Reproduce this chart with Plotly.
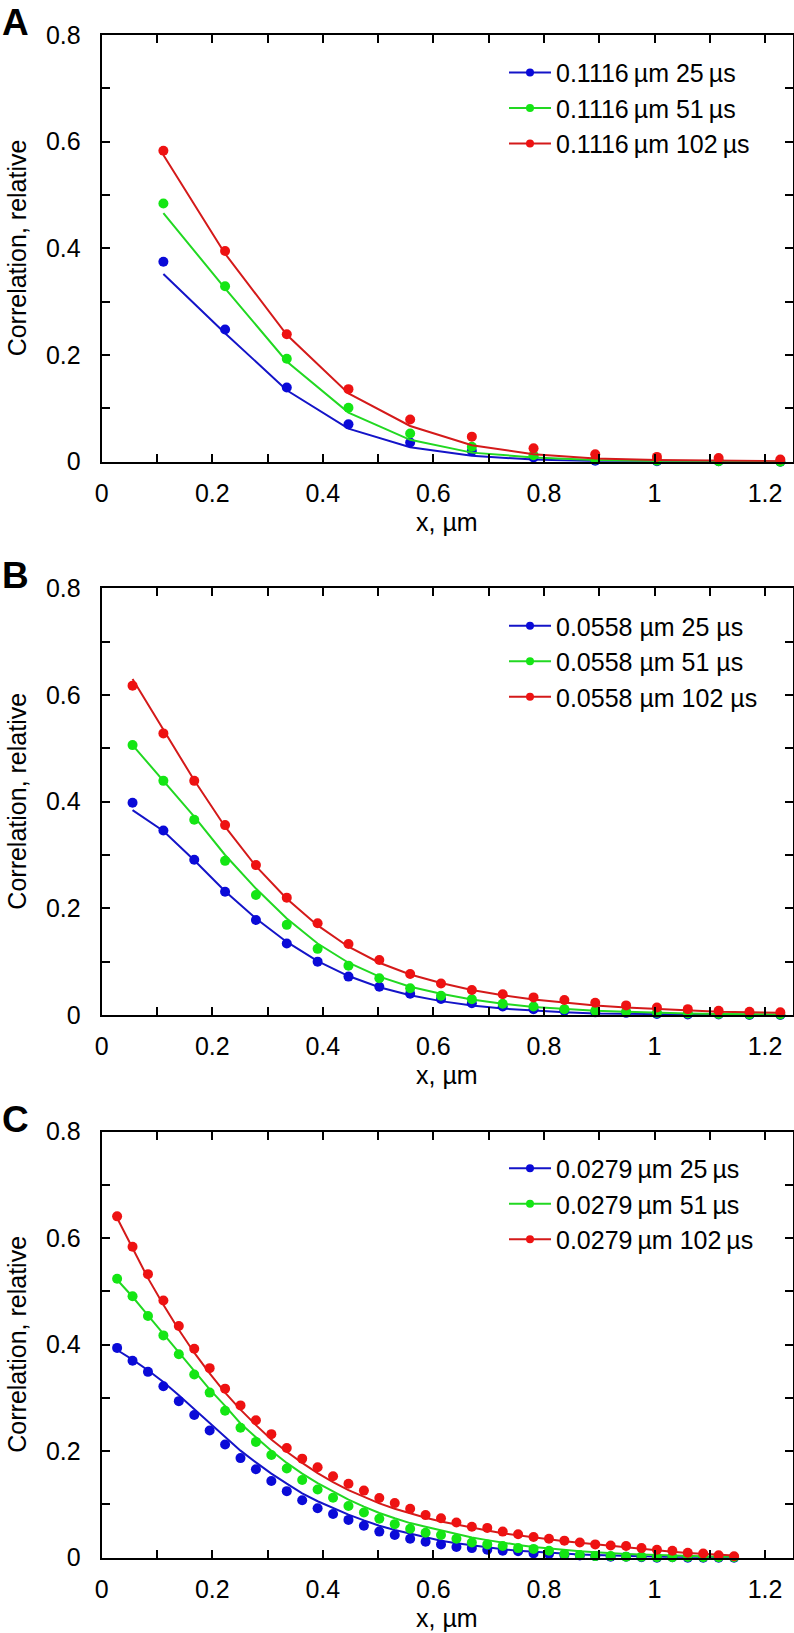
import plotly.graph_objects as go

# ---------------- data ----------------
x_a = [0.1116, 0.2232, 0.3348, 0.4464, 0.558, 0.6696, 0.7812, 0.8928, 1.0044, 1.116, 1.2276]
a_blue = [0.375, 0.248, 0.139, 0.070, 0.036, 0.020, 0.008, 0.002, 0.001, 0.001, 0.0]
a_blue_fit = [0.352, 0.241, 0.134, 0.062, 0.027, 0.011, 0.004, 0.001, 0.0, 0.0, 0.0]
a_green = [0.484, 0.329, 0.193, 0.101, 0.053, 0.028, 0.012, 0.004, 0.002, 0.001, 0.0]
a_green_fit = [0.466, 0.325, 0.188, 0.092, 0.041, 0.017, 0.008, 0.003, 0.001, 0.0, 0.0]
a_red = [0.583, 0.395, 0.239, 0.136, 0.079, 0.047, 0.025, 0.014, 0.009, 0.007, 0.004]
a_red_fit = [0.575, 0.390, 0.238, 0.128, 0.067, 0.031, 0.014, 0.006, 0.003, 0.0015, 0.001]

x_b = [0.0558, 0.1116, 0.1674, 0.2232, 0.279, 0.3348, 0.3906, 0.4464, 0.5022, 0.558, 0.6138,
       0.6696, 0.7254, 0.7812, 0.837, 0.8928, 0.9486, 1.0044, 1.0602, 1.116, 1.1718, 1.2276]
b_blue = [0.398, 0.346, 0.291, 0.231, 0.178, 0.134, 0.100, 0.072, 0.053, 0.040, 0.030,
          0.022, 0.016, 0.011, 0.008, 0.005, 0.004, 0.002, 0.001, 0.001, 0.0, 0.0]
b_blue_fit = [0.384, 0.345, 0.290, 0.232, 0.181, 0.137, 0.101, 0.073, 0.052, 0.037, 0.026,
              0.018, 0.012, 0.008, 0.005, 0.003, 0.002, 0.001, 0.001, 0.0005, 0.0, 0.0]
b_green = [0.506, 0.439, 0.366, 0.289, 0.225, 0.169, 0.124, 0.0925, 0.069, 0.050, 0.036,
           0.0295, 0.021, 0.016, 0.011, 0.008, 0.006, 0.004, 0.003, 0.002, 0.001, 0.001]
b_green_fit = [0.506, 0.440, 0.372, 0.300, 0.237, 0.181, 0.134, 0.098, 0.072, 0.053, 0.040,
               0.029, 0.021, 0.015, 0.011, 0.008, 0.006, 0.004, 0.003, 0.002, 0.0015, 0.001]
b_red = [0.6175, 0.528, 0.439, 0.356, 0.281, 0.220, 0.172, 0.133, 0.103, 0.077, 0.059,
         0.047, 0.039, 0.033, 0.028, 0.023, 0.018, 0.014, 0.011, 0.008, 0.006, 0.005]
b_red_fit = [0.630, 0.535, 0.440, 0.353, 0.279, 0.218, 0.168, 0.128, 0.098, 0.076, 0.060,
             0.047, 0.037, 0.029, 0.023, 0.018, 0.014, 0.011, 0.008, 0.006, 0.005, 0.004]

x_c = [0.0279, 0.0558, 0.0837, 0.1116, 0.1395, 0.1674, 0.1953, 0.2232, 0.2511, 0.279,
       0.3069, 0.3348, 0.3627, 0.3906, 0.4185, 0.4464, 0.4743, 0.5022, 0.5301, 0.558,
       0.5859, 0.6138, 0.6417, 0.6696, 0.6975, 0.7254, 0.7533, 0.7812, 0.8091, 0.837,
       0.8649, 0.8928, 0.9207, 0.9486, 0.9765, 1.0044, 1.0323, 1.0602, 1.0881, 1.116, 1.1439]
c_blue = [0.394, 0.370, 0.349, 0.322, 0.294, 0.268, 0.239, 0.2125, 0.187, 0.166,
          0.144, 0.125, 0.108, 0.093, 0.082, 0.071, 0.060, 0.049, 0.0425, 0.0355,
          0.030, 0.025, 0.020, 0.018, 0.015, 0.013, 0.012, 0.008, 0.007, 0.005,
          0.004, 0.003, 0.002, 0.002, 0.001, 0.0, 0.001, 0.0, 0.0, 0.0, 0.0]
c_blue_fit = [0.390, 0.372, 0.352, 0.330, 0.305, 0.279, 0.252, 0.226, 0.201, 0.179,
              0.158, 0.139, 0.121, 0.106, 0.093, 0.081, 0.070, 0.060, 0.052, 0.045,
              0.038, 0.032, 0.027, 0.023, 0.019, 0.016, 0.013, 0.011, 0.009, 0.007,
              0.006, 0.005, 0.004, 0.003, 0.002, 0.002, 0.001, 0.001, 0.001, 0.001, 0.0]
c_green = [0.524, 0.491, 0.454, 0.4175, 0.382, 0.344, 0.310, 0.276, 0.244, 0.2175,
           0.193, 0.1675, 0.146, 0.128, 0.1125, 0.097, 0.085, 0.073, 0.063, 0.0545,
           0.047, 0.0425, 0.0355, 0.0285, 0.025, 0.022, 0.018, 0.0165, 0.013, 0.007,
           0.005, 0.003, 0.003, 0.002, 0.002, 0.001, 0.001, 0.0015, 0.001, 0.001, 0.001]
c_green_fit = [0.522, 0.490, 0.455, 0.420, 0.385, 0.350, 0.316, 0.285, 0.252, 0.226,
               0.201, 0.178, 0.158, 0.140, 0.124, 0.109, 0.096, 0.084, 0.074, 0.065,
               0.058, 0.051, 0.044, 0.038, 0.033, 0.028, 0.024, 0.020, 0.017, 0.014,
               0.012, 0.010, 0.008, 0.007, 0.006, 0.005, 0.004, 0.003, 0.003, 0.002, 0.002]
c_red = [0.641, 0.584, 0.5325, 0.483, 0.435, 0.3925, 0.356, 0.3175, 0.286, 0.258,
         0.232, 0.206, 0.186, 0.170, 0.153, 0.139, 0.126, 0.112, 0.1025, 0.092,
         0.080, 0.074, 0.066, 0.058, 0.056, 0.049, 0.044, 0.039, 0.0355, 0.032,
         0.0285, 0.025, 0.023, 0.022, 0.018, 0.015, 0.013, 0.0094, 0.008, 0.0047, 0.0026]
c_red_fit = [0.638, 0.580, 0.525, 0.475, 0.428, 0.385, 0.346, 0.310, 0.278, 0.249,
             0.222, 0.199, 0.178, 0.159, 0.142, 0.127, 0.114, 0.102, 0.092, 0.083,
             0.075, 0.068, 0.062, 0.056, 0.051, 0.046, 0.042, 0.038, 0.034, 0.031,
             0.028, 0.025, 0.022, 0.019, 0.016, 0.013, 0.011, 0.009, 0.007, 0.005, 0.004]

names_a = ["0.1116\u2009µm 25\u2009µs", "0.1116\u2009µm 51\u2009µs", "0.1116\u2009µm 102\u2009µs"]
names_b = ["0.0558 µm 25 µs", "0.0558 µm 51 µs", "0.0558 µm 102 µs"]
names_c = ["0.0279\u2009µm 25\u2009µs", "0.0279\u2009µm 51\u2009µs", "0.0279\u2009µm 102\u2009µs"]
panel_letters = ["A", "B", "C"]
x_title = "x, µm"
y_title = "Correlation, relative"

x_tickvals = [0, 0.1, 0.2, 0.3, 0.4, 0.5, 0.6, 0.7, 0.8, 0.9, 1.0, 1.1, 1.2]
x_ticktext = ["0", "", "0.2", "", "0.4", "", "0.6", "", "0.8", "", "1", "", "1.2"]
y_tickvals = [0, 0.1, 0.2, 0.3, 0.4, 0.5, 0.6, 0.7, 0.8]
y_ticktext = ["0", "", "0.2", "", "0.4", "", "0.6", "", "0.8"]

# ---------------- style ----------------
W, H = 794, 1633
FONT = "Arial, 'Liberation Sans', sans-serif"
dot_colors = ["#0a0ad8", "#14e614", "#ee1212"]
line_colors = ["#1414c8", "#22d822", "#d41a1a"]

# pixel geometry (top, bottom) of each plot area
panels_px = [(35.0, 461.7), (588.3, 1015.0), (1131.7, 1557.7)]
x_left, x_right = 101.7, 792.7


def py(y):
    return 1 - y / H


fig = go.Figure()

panels = [
    (x_a, [a_blue, a_green, a_red], [a_blue_fit, a_green_fit, a_red_fit], names_a),
    (x_b, [b_blue, b_green, b_red], [b_blue_fit, b_green_fit, b_red_fit], names_b),
    (x_c, [c_blue, c_green, c_red], [c_blue_fit, c_green_fit, c_red_fit], names_c),
]

legend_ids = ["legend", "legend2", "legend3"]
legend_first_row = [72.7, 626.0, 1168.6]

for i, (xs, datas, fits, names) in enumerate(panels):
    xa = "x" if i == 0 else f"x{i+1}"
    ya = "y" if i == 0 else f"y{i+1}"
    for j in range(3):
        fig.add_trace(go.Scatter(x=xs, y=fits[j], mode="lines", xaxis=xa, yaxis=ya,
                                 line=dict(color=line_colors[j], width=2),
                                 showlegend=False, hoverinfo="skip"))
        fig.add_trace(go.Scatter(x=xs, y=datas[j], mode="markers", xaxis=xa, yaxis=ya,
                                 marker=dict(color=dot_colors[j], size=10),
                                 cliponaxis=False, showlegend=False))
    for j in range(3):
        fig.add_trace(go.Scatter(x=[None], y=[None], mode="lines+markers", xaxis=xa, yaxis=ya,
                                 name=names[j], legend=legend_ids[i],
                                 line=dict(color=line_colors[j], width=2),
                                 marker=dict(color=dot_colors[j], size=8)))

axis_common = dict(showline=True, linecolor="black", linewidth=2, mirror="ticks",
                   ticks="inside", ticklen=8, tickwidth=1.6, tickcolor="black",
                   showgrid=False, zeroline=False, automargin=False,
                   tickfont=dict(family=FONT, size=25, color="black"))

layout = dict(width=W, height=H, margin=dict(l=0, r=0, t=0, b=0),
              paper_bgcolor="white", plot_bgcolor="white", showlegend=True)

annotations = []
for i, (top, bot) in enumerate(panels_px):
    sfx = "" if i == 0 else str(i + 1)
    layout["xaxis" + sfx] = dict(axis_common, domain=[x_left / W, x_right / W],
                                 range=[0, 1.25], anchor="y" + sfx,
                                 tickvals=x_tickvals, ticktext=x_ticktext,
                                 ticklabelstandoff=8)
    layout["yaxis" + sfx] = dict(axis_common, domain=[py(bot), py(top)],
                                 range=[0, 0.8], anchor="x" + sfx,
                                 tickvals=y_tickvals, ticktext=y_ticktext,
                                 ticklabelstandoff=14)
    layout[legend_ids[i]] = dict(x=504 / W, xanchor="left",
                                 y=py(legend_first_row[i] - 23), yanchor="top",
                                 bgcolor="rgba(0,0,0,0)", itemwidth=42,
                                 font=dict(family=FONT, size=25, color="black"),
                                 tracegroupgap=0)
    # panel letter
    annotations.append(dict(text=f"<b>{panel_letters[i]}</b>", xref="paper", yref="paper",
                            x=0, xanchor="left", y=py(top - 35), yanchor="top",
                            showarrow=False,
                            font=dict(family=FONT, size=37, color="black")))
    # x title
    annotations.append(dict(text=x_title, xref="paper", yref="paper",
                            x=(x_left + x_right) / 2 / W, xanchor="center",
                            y=py(bot + 60), yanchor="middle", showarrow=False,
                            font=dict(family=FONT, size=25, color="black")))
    # y title
    annotations.append(dict(text=y_title, xref="paper", yref="paper",
                            x=17 / W, xanchor="center",
                            y=py((top + bot) / 2), yanchor="middle", textangle=-90,
                            showarrow=False,
                            font=dict(family=FONT, size=25, color="black")))

layout["annotations"] = annotations
fig.update_layout(**layout)
fig.write_html("out.html", config={"displayModeBar": False},
               post_script="document.body.style.margin='0';document.body.style.overflow='hidden';")
